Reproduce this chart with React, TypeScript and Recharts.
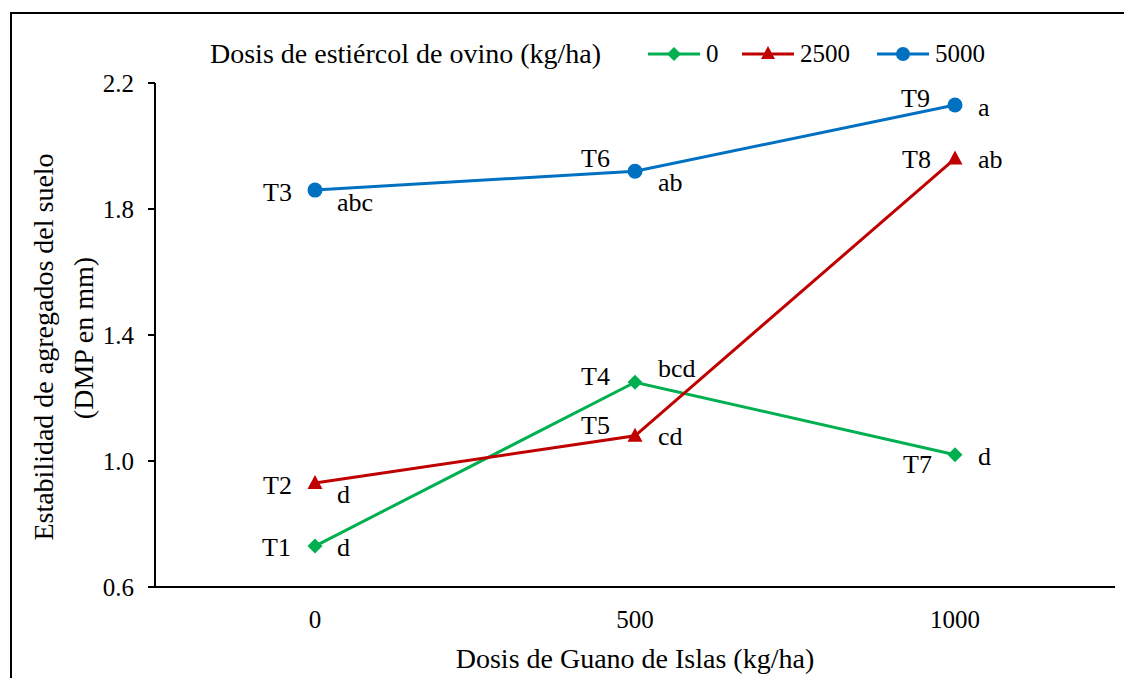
import { LineChart, Line, XAxis, YAxis, Legend } from 'recharts'

const categories = ['0', '500', '1000']
const manure0 = [0.73, 1.25, 1.02]
const manure2500 = [0.93, 1.08, 1.96]
const manure5000 = [1.86, 1.92, 2.13]
const treat0 = ['T1', 'T4', 'T7']
const treat2500 = ['T2', 'T5', 'T8']
const treat5000 = ['T3', 'T6', 'T9']
const letters0 = ['d', 'bcd', 'd']
const letters2500 = ['d', 'cd', 'ab']
const letters5000 = ['abc', 'ab', 'a']
const yTicks = [0.6, 1.0, 1.4, 1.8, 2.2]

const data = categories.map((c, i) => ({
  dose: c,
  m0: manure0[i],
  m2500: manure2500[i],
  m5000: manure5000[i],
}))

const FONT = '"Liberation Serif", "Times New Roman", serif'
const TICK_FS = 25
const LABEL_FS = 26
const TITLE_FS = 28
const GREEN = '#00B050'
const RED = '#C00000'
const BLUE = '#0070C0'

// label offsets: [tDx, tDy, letterDx, letterDy]
const pos0 = [[-24, 1, 22, 1], [-25, -6, 23, -14], [-23, 10, 23, 2]]
const pos2500 = [[-23, 2, 22, 11], [-25, -10, 23, 1], [-24, 1, 23, 1]]
const pos5000 = [[-23, 2, 22, 12], [-25, -13, 23, 11], [-25, -7, 23, 2]]

const Diamond = (p: any) => (
  <polygon
    key={`d-${p.index}`}
    points={`${p.cx},${p.cy - 7.5} ${p.cx + 7.5},${p.cy} ${p.cx},${p.cy + 7.5} ${p.cx - 7.5},${p.cy}`}
    fill={GREEN}
  />
)
const Triangle = (p: any) => (
  <polygon
    key={`t-${p.index}`}
    points={`${p.cx},${p.cy - 8} ${p.cx + 7.5},${p.cy + 6} ${p.cx - 7.5},${p.cy + 6}`}
    fill={RED}
  />
)
const Circle = (p: any) => <circle key={`c-${p.index}`} cx={p.cx} cy={p.cy} r={7.5} fill={BLUE} />

function pointLabels(treats: string[], letters: string[], pos: number[][]) {
  return (p: any) => {
    const o = pos[p.index]
    return (
      <g key={`l-${p.index}`} fontFamily={FONT} fontSize={LABEL_FS} fill="#000">
        <text x={p.x + o[0]} y={p.y + o[1]} textAnchor="end" dominantBaseline="central">
          {treats[p.index]}
        </text>
        <text x={p.x + o[2]} y={p.y + o[3]} textAnchor="start" dominantBaseline="central">
          {letters[p.index]}
        </text>
      </g>
    )
  }
}

const legendItems = [
  { name: '0', color: GREEN, shape: 'diamond', left: 647 },
  { name: '2500', color: RED, shape: 'triangle', left: 741 },
  { name: '5000', color: BLUE, shape: 'circle', left: 876 },
]

function LegendBox() {
  return (
    <div style={{ position: 'relative', height: 36, fontFamily: FONT, color: '#000' }}>
      <span style={{ position: 'absolute', left: 210, top: 0, fontSize: TITLE_FS, lineHeight: '36px' }}>
        Dosis de estiércol de ovino (kg/ha)
      </span>
      {legendItems.map((it) => (
        <span
          key={it.name}
          style={{ position: 'absolute', left: it.left, top: 0, height: 36, display: 'flex', alignItems: 'center', fontSize: TICK_FS }}
        >
          <svg width={54} height={20} style={{ marginRight: 5 }}>
            <line x1={1} y1={10} x2={53} y2={10} stroke={it.color} strokeWidth={3} />
            {it.shape === 'diamond' && <polygon points="27,3 34,10 27,17 20,10" fill={it.color} />}
            {it.shape === 'triangle' && <polygon points="27,2 34,15 20,15" fill={it.color} />}
            {it.shape === 'circle' && <circle cx={27} cy={10} r={7} fill={it.color} />}
          </svg>
          <span>{it.name}</span>
        </span>
      ))}
    </div>
  )
}

export default function App() {
  return (
    <div style={{ margin: -8, width: 1132, height: 686, position: 'relative', background: '#fff' }}>
      <div
        style={{
          position: 'absolute',
          left: 10,
          top: 12,
          right: 0,
          bottom: 0,
          borderLeft: '2px solid #000',
          borderTop: '2px solid #000',
        }}
      />
      <LineChart
        width={1132}
        height={686}
        data={data}
        margin={{ top: 83, right: 17, bottom: 0, left: 0 }}
        style={{ position: 'absolute', left: 0, top: 0 }}
      >
        <XAxis
          dataKey="dose"
          height={99}
          padding={{ left: 160, right: 160 }}
          axisLine={{ stroke: '#000', strokeWidth: 2 }}
          tickLine={false}
          tickSize={6}
          tickMargin={17}
          tick={{ fill: '#000', fontFamily: FONT, fontSize: TICK_FS }}
          label={{
            content: (p: any) => (
              <text
                x={p.viewBox.x + p.viewBox.width / 2}
                y={p.viewBox.y + 71}
                textAnchor="middle"
                dominantBaseline="central"
                fontFamily={FONT}
                fontSize={TITLE_FS}
                fill="#000"
              >
                Dosis de Guano de Islas (kg/ha)
              </text>
            ),
          }}
        />
        <XAxis
          xAxisId="top"
          orientation="top"
          dataKey="dose"
          height={0}
          padding={{ left: 160, right: 160 }}
          tick={false}
          tickLine={false}
          axisLine={{ stroke: '#000', strokeWidth: 2 }}
        />
        <YAxis
          domain={[0.6, 2.2]}
          ticks={yTicks}
          width={155}
          interval={0}
          axisLine={{ stroke: '#000', strokeWidth: 2 }}
          tickLine={{ stroke: '#000', strokeWidth: 2 }}
          tickSize={7}
          tickMargin={14}
          tickFormatter={(v: number) => v.toFixed(1)}
          tick={{ fill: '#000', fontFamily: FONT, fontSize: TICK_FS }}
          label={{
            content: () => (
              <g fontFamily={FONT} fontSize={TITLE_FS} fill="#000">
                <text x={43} y={347} transform="rotate(-90 43 347)" textAnchor="middle" dominantBaseline="central">
                  Estabilidad de agregados del suelo
                </text>
                <text x={83} y={338} transform="rotate(-90 83 338)" textAnchor="middle" dominantBaseline="central">
                  (DMP en mm)
                </text>
              </g>
            ),
          }}
        />
        <YAxis
          yAxisId="right"
          orientation="right"
          domain={[0.6, 2.2]}
          width={0}
          tick={false}
          tickLine={false}
          axisLine={{ stroke: '#000', strokeWidth: 2 }}
        />
        <Legend
          layout="horizontal"
          verticalAlign="middle"
          align="center"
          wrapperStyle={{ top: 36, left: 0, width: 1132 }}
          content={() => <LegendBox />}
        />
        <Line
          dataKey="m0"
          stroke={GREEN}
          strokeWidth={3}
          dot={Diamond}
          activeDot={false}
          isAnimationActive={false}
          label={pointLabels(treat0, letters0, pos0)}
        />
        <Line
          dataKey="m2500"
          stroke={RED}
          strokeWidth={3}
          dot={Triangle}
          activeDot={false}
          isAnimationActive={false}
          label={pointLabels(treat2500, letters2500, pos2500)}
        />
        <Line
          dataKey="m5000"
          stroke={BLUE}
          strokeWidth={3}
          dot={Circle}
          activeDot={false}
          isAnimationActive={false}
          label={pointLabels(treat5000, letters5000, pos5000)}
        />
      </LineChart>
    </div>
  )
}
